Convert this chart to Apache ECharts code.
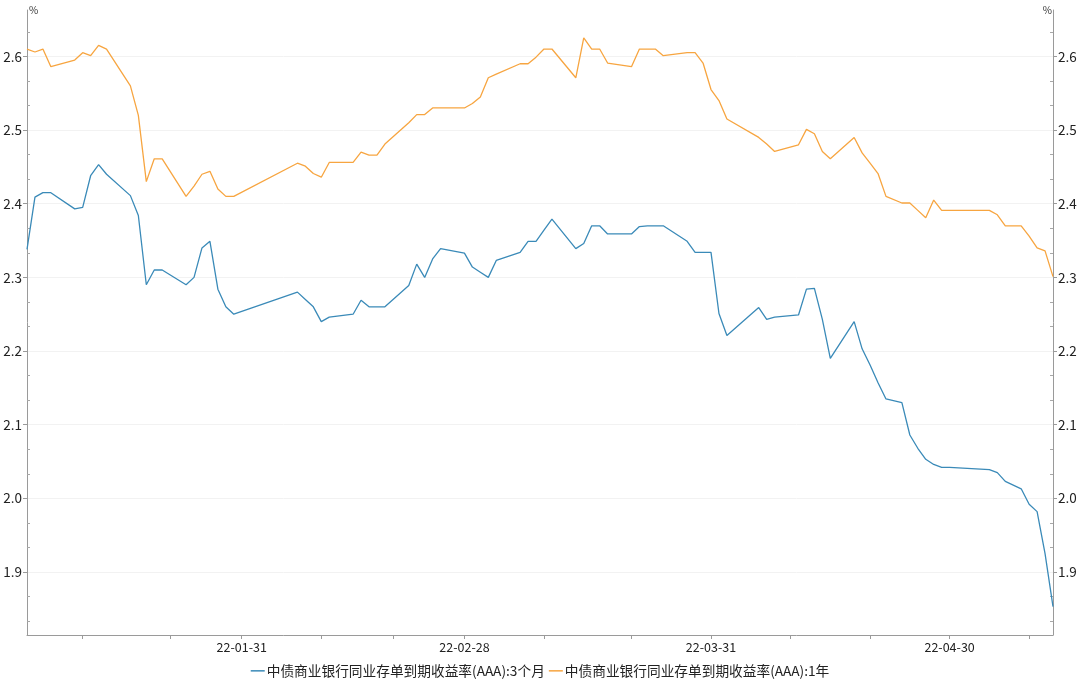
<!DOCTYPE html>
<html>
<head>
<meta charset="utf-8">
<script src="https://cdn.jsdelivr.net/npm/echarts@6/dist/echarts.min.js"></script>
<style>
html,body{margin:0;padding:0;background:#fff;}
#chart{width:1080px;height:679px;}
</style>
</head>
<body>
<div id="chart"></div>
<script>
// Trading dates (interbank market, incl. make-up working days)
const tradeDates = [
 '2022-01-04','2022-01-05','2022-01-06','2022-01-07','2022-01-10','2022-01-11','2022-01-12','2022-01-13','2022-01-14',
 '2022-01-17','2022-01-18','2022-01-19','2022-01-20','2022-01-21','2022-01-24','2022-01-25','2022-01-26','2022-01-27',
 '2022-01-28','2022-01-29','2022-01-30','2022-02-07','2022-02-08','2022-02-09','2022-02-10','2022-02-11','2022-02-14',
 '2022-02-15','2022-02-16','2022-02-17','2022-02-18','2022-02-21','2022-02-22','2022-02-23','2022-02-24','2022-02-25',
 '2022-02-28','2022-03-01','2022-03-02','2022-03-03','2022-03-04','2022-03-07','2022-03-08','2022-03-09','2022-03-10',
 '2022-03-11','2022-03-14','2022-03-15','2022-03-16','2022-03-17','2022-03-18','2022-03-21','2022-03-22','2022-03-23',
 '2022-03-24','2022-03-25','2022-03-28','2022-03-29','2022-03-30','2022-03-31','2022-04-01','2022-04-02','2022-04-06',
 '2022-04-07','2022-04-08','2022-04-11','2022-04-12','2022-04-13','2022-04-14','2022-04-15','2022-04-18','2022-04-19',
 '2022-04-20','2022-04-21','2022-04-22','2022-04-24','2022-04-25','2022-04-26','2022-04-27','2022-04-28','2022-04-29',
 '2022-04-30','2022-05-05','2022-05-06','2022-05-07','2022-05-09','2022-05-10','2022-05-11','2022-05-12','2022-05-13'
];
// 中债商业银行同业存单到期收益率(AAA):3个月
const rate3M = [
 2.338,2.409,2.415,2.415,2.393,2.395,2.438,2.453,2.440,
 2.411,2.384,2.290,2.310,2.310,2.290,2.300,2.340,2.349,
 2.284,2.260,2.250,2.280,2.270,2.260,2.240,2.246,2.250,
 2.269,2.260,2.260,2.260,2.289,2.318,2.300,2.325,2.339,
 2.333,2.314,2.307,2.300,2.323,2.334,2.349,2.349,2.364,
 2.379,2.339,2.346,2.370,2.370,2.359,2.359,2.369,2.370,
 2.370,2.370,2.349,2.334,2.334,2.334,2.251,2.221,2.259,
 2.243,2.246,2.249,2.284,2.285,2.243,2.190,2.240,2.203,
 2.181,2.157,2.135,2.130,2.086,2.068,2.053,2.046,2.042,
 2.042,2.039,2.035,2.023,2.013,1.992,1.982,1.925,1.853
];
// 中债商业银行同业存单到期收益率(AAA):1年
const rate1Y = [
 2.610,2.606,2.610,2.586,2.595,2.605,2.601,2.615,2.610,
 2.560,2.520,2.430,2.461,2.461,2.410,2.424,2.440,2.444,
 2.420,2.410,2.410,2.455,2.451,2.441,2.436,2.456,2.456,
 2.470,2.466,2.466,2.481,2.510,2.521,2.521,2.530,2.530,
 2.530,2.536,2.545,2.571,2.576,2.590,2.590,2.599,2.610,
 2.610,2.571,2.625,2.610,2.610,2.591,2.586,2.610,2.610,
 2.610,2.601,2.605,2.605,2.591,2.555,2.540,2.515,2.490,
 2.481,2.471,2.480,2.501,2.495,2.471,2.461,2.490,2.469,
 2.455,2.441,2.410,2.401,2.401,2.391,2.381,2.405,2.391,
 2.391,2.391,2.385,2.370,2.370,2.356,2.340,2.336,2.301
];
const seriesNames = ['中债商业银行同业存单到期收益率(AAA):3个月','中债商业银行同业存单到期收益率(AAA):1年'];
const tickDates = ['2022-01-11','2022-01-22','2022-01-31','2022-02-10','2022-02-19','2022-02-28','2022-03-10',
                   '2022-03-21','2022-03-31','2022-04-10','2022-04-20','2022-04-30','2022-05-10'];
const labelDates = ['2022-01-31','2022-02-28','2022-03-31','2022-04-30'];
const startDate = '2022-01-04', endDate = '2022-05-13';
const Y_MIN = 1.8145, Y_MAX = 2.663;

// calendar-day category axis
const calendar = [];
{
  const [sy, sm, sd] = startDate.split('-').map(Number);
  const [ey, em, ed] = endDate.split('-').map(Number);
  let t = Date.UTC(sy, sm - 1, sd);
  const tEnd = Date.UTC(ey, em - 1, ed);
  while (t <= tEnd) {
    calendar.push(new Date(t).toISOString().slice(0, 10));
    t += 86400000;
  }
}
function onCalendar(values) {
  const m = {};
  tradeDates.forEach((d, i) => { m[d] = values[i]; });
  return calendar.map(d => (d in m ? m[d] : null));
}

const chart = echarts.init(document.getElementById('chart'), null, {renderer: 'canvas'});
const FONT = '"Noto Sans CJK SC", "Noto Sans", sans-serif';
const axisGray = '#9a9a9a';
function yAxisCfg(pos) {
  return {
    type: 'value', position: pos, min: Y_MIN, max: Y_MAX, splitNumber: 8,
    name: '%', nameLocation: 'end', nameGap: 0,
    nameTextStyle: {color: '#333', fontSize: 10, fontFamily: FONT, align: pos === 'left' ? 'left' : 'right',
                    verticalAlign: 'middle', padding: pos === 'left' ? [0, 0, 0, 2] : [0, 1, 0, 0]},
    axisLine: {show: true, lineStyle: {color: axisGray, width: 1}},
    axisTick: {show: true, length: 4, lineStyle: {color: axisGray}},
    minorTick: {show: false},
    axisLabel: {color: '#222', fontSize: 13.5, fontFamily: FONT, margin: 5,
                showMinLabel: false, showMaxLabel: false, formatter: v => v.toFixed(1)},
    splitLine: {show: pos === 'left', showMinLine: false, showMaxLine: false,
                lineStyle: {color: '#f2f2f2', width: 1}},
    minorSplitLine: {show: false}
  };
}
// overlay axes carrying only the inward minor ticks
function minorAxisCfg(pos) {
  return {
    type: 'value', position: pos, min: Y_MIN, max: Y_MAX, splitNumber: 8,
    axisLine: {show: false},
    axisTick: {show: false, inside: true},
    minorTick: {show: true, splitNumber: 3, length: 3, lineStyle: {color: '#a8a8a8'}},
    axisLabel: {show: false},
    splitLine: {show: false}
  };
}

chart.setOption({
  animation: false,
  backgroundColor: '#fff',
  color: ['#3a8ab8', '#f7a540'],
  grid: {left: 27, right: 27, top: 10, bottom: 44},
  legend: {
    top: 659, left: 'center', itemGap: 4, itemWidth: 14, itemHeight: 1.5, icon: 'rect',
    textStyle: {color: '#222', fontSize: 13.7, fontFamily: FONT, padding: [0, 0, 0, -3]},
    data: seriesNames
  },
  xAxis: {
    type: 'category', data: calendar, boundaryGap: false,
    axisLine: {show: true, lineStyle: {color: axisGray}},
    axisTick: {show: true, length: 4, lineStyle: {color: axisGray},
               interval: (i, v) => tickDates.includes(v)},
    axisLabel: {color: '#222', fontSize: 12.5, fontFamily: FONT, margin: 6,
                interval: (i, v) => labelDates.includes(v),
                formatter: v => v.slice(2)},
    splitLine: {show: false}
  },
  yAxis: [yAxisCfg('left'), yAxisCfg('right'), minorAxisCfg('left'), minorAxisCfg('right')],
  series: [
    {name: seriesNames[0], type: 'line', data: onCalendar(rate3M), connectNulls: true,
     showSymbol: false, symbol: 'none', lineStyle: {width: 1.3}, yAxisIndex: 0},
    {name: seriesNames[1], type: 'line', data: onCalendar(rate1Y), connectNulls: true,
     showSymbol: false, symbol: 'none', lineStyle: {width: 1.3}, yAxisIndex: 0}
  ]
});
</script>
</body>
</html>
